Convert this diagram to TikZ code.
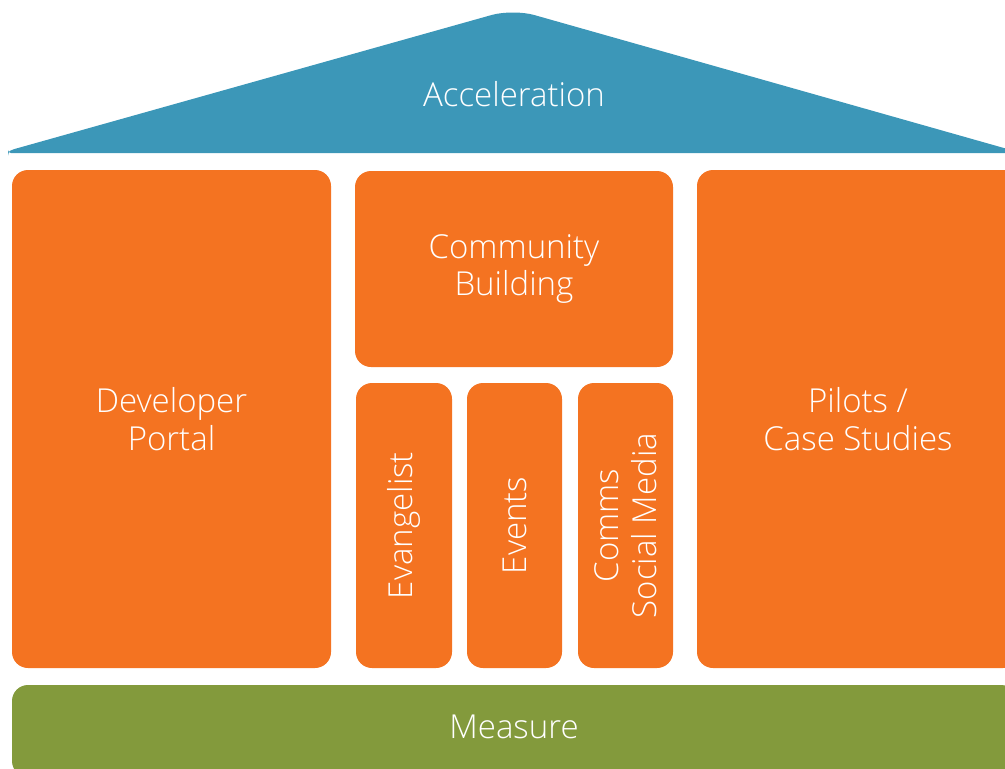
\documentclass[tikz,border=0pt]{standalone}
\usepackage{fontspec}
\setmainfont{Open Sans Light}
\definecolor{roofblue}{HTML}{3C97B8}
\definecolor{pillar}{HTML}{F47321}
\definecolor{basegreen}{HTML}{839A3C}
\begin{document}
\begin{tikzpicture}[x=1pt,y=-1pt,
  label/.style={text=white, align=center, inner sep=0pt,
    font=\fontsize{33}{37.5}\selectfont},
  block/.style={label, fill=pillar, rounded corners=16pt},
  vblock/.style={block, rotate=90}]
\useasboundingbox (0,0) rectangle (1005,769);
\clip (0,0) rectangle (1005,769);
% roof
\fill[roofblue, rounded corners=3pt] (8,152.5) -- (11,150)
  [rounded corners=22pt] -- (513,9)
  [rounded corners=3pt] -- (1018,152) -- (1018,153) -- (8,153) -- cycle;
\node[label] (roof) at (514,94) {Acceleration};
% pillars
\node[block, minimum width=319pt, minimum height=498pt] (portal) at (171.5,419) {Developer\\Portal};
\node[block, minimum width=318pt, minimum height=196pt] (community) at (514,269) {Community\\Building};
\node[block, minimum width=322pt, minimum height=498pt] (pilots) at (858,419) {Pilots /\\Case Studies};
\node[vblock, minimum width=285pt, minimum height=96pt] (evangelist) at (404,525.5) {Evangelist};
\node[vblock, minimum width=285pt, minimum height=95pt] (events) at (514.5,525.5) {Events};
\node[vblock, minimum width=285pt, minimum height=95pt] (comms) at (625.5,525.5) {Comms\\Social Media};
% foundation
\node[block, fill=basegreen, minimum width=1005pt, minimum height=92pt] (measure) at (514.5,731) {};
\node[label] (measuretext) at (514,727) {Measure};
\end{tikzpicture}
\end{document}
